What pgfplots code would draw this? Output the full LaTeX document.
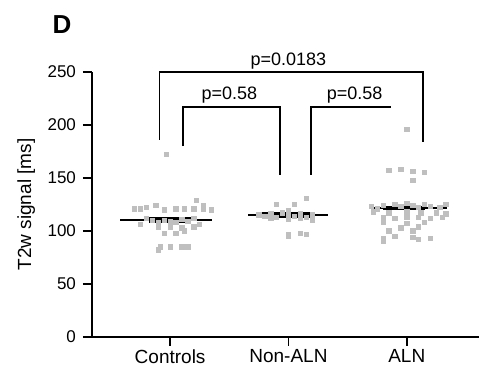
\documentclass[border=0pt]{standalone}
\usepackage{pgfplots}
\pgfplotsset{compat=1.18}
\usepackage{fontspec}
\setmainfont{Liberation Sans}
\begin{document}
\begin{tikzpicture}
\useasboundingbox (-46pt,-15.5pt) rectangle (193.5pt,168.5pt);
\begin{axis}[
  at={(0,0)}, anchor=south west,
  scale only axis, width=193.5pt, height=132.5pt,
  xmin=-0.66, xmax=2.61, ymin=0, ymax=250,
  axis x line=bottom, axis y line=left,
  axis line style={-, line width=1.1pt},
  clip=false,
  xtick={0,1,2}, xticklabels={Controls,Non-ALN,ALN},
  ytick={0,50,100,150,200,250},
  tick align=outside, major tick length=4.5pt,
  tick style={black, line width=0.9pt},
  x tick label style={font=\fontsize{9.5}{10}\selectfont, yshift=1.8pt},
  y tick label style={font=\fontsize{8.5}{10}\selectfont},
  /pgf/number format/assume math mode=true,
  ylabel={T2w signal [ms]},
  ylabel style={font=\fontsize{9.5}{10}\selectfont, at={(axis description cs:-0.17,0.5)}, anchor=center},
]
% data points
\addplot[only marks, mark=square*, mark size=1.1pt, draw=gray!50, fill=gray!50] coordinates {
(-0.30,121)(-0.25,121)(-0.20,122)(-0.12,124)(-0.05,120)(0.05,121)(0.12,121)(0.20,121)(0.28,121)(0.35,120)(0.22,129)(0.28,124)(-0.03,172)
(-0.15,110)(-0.10,108)(-0.05,110)(0.00,109)(0.05,108)(0.10,111)(0.15,109)(-0.20,112)(0.20,112)(0.25,106)(-0.25,106)
(-0.10,104)(0.00,104)(0.10,103)(-0.05,98)(0.05,98)(0.12,100)(-0.08,85)(-0.10,82)(0.00,85)(0.10,85)(0.15,85)(0.20,104)
(0.90,125)(1.05,125)(1.15,131)(1.00,119)
(0.75,115)(0.80,114)(0.85,116)(0.90,113)(0.95,117)(1.00,115)(1.05,114)(1.10,116)(1.15,113)(1.20,115)
(0.85,112)(1.00,111)(1.10,112)(1.20,110)(1.00,97)(1.00,95)(1.10,98)(1.15,97)
(2.00,196)(1.85,157)(1.95,158)(2.05,156)(2.15,155)(2.05,148)
(1.70,123)(1.75,121)(1.80,124)(1.90,125)(1.95,123)(2.00,126)(2.05,124)(2.10,122)(2.15,125)(2.20,123)(2.28,122)(2.33,125)
(1.72,118)(1.85,117)(2.00,118)(2.12,117)(2.25,117)(2.33,116)
(1.80,113)(1.90,112)(2.00,113)(2.10,113)(2.20,112)(2.30,113)
(1.80,108)(2.00,107)(2.15,108)(1.95,103)(2.10,104)(1.85,100)(2.05,100)
(1.80,93)(1.80,90)(2.05,94)(2.10,92)(2.20,93)(1.90,95)
};
% medians
\addplot[black, line width=1pt] coordinates {(-0.42,110)(0.35,110)};
\addplot[black, line width=1pt] coordinates {(0.66,115)(1.33,115)};
\addplot[black, line width=1pt] coordinates {(1.71,122)(2.34,122)};
\addplot[black, line width=3pt] coordinates {(-0.18,110)(0.18,110)};
\addplot[black, line width=3pt] coordinates {(0.78,115)(1.20,115)};
\addplot[black, line width=2pt] coordinates {(1.80,122)(2.15,122)};
% brackets
\addplot[black, line width=0.9pt] coordinates {(-0.09,186)(-0.09,250)(2.14,250)(2.14,184)};
\addplot[black, line width=0.9pt] coordinates {(0.11,180)(0.11,217)(0.93,217)(0.93,153)};
\addplot[black, line width=0.9pt] coordinates {(1.19,153)(1.19,217)(1.87,217)};
\node[font=\fontsize{9}{10}\selectfont, anchor=base] at (axis cs:1.0,256) {p=0.0183};
\node[font=\fontsize{9}{10}\selectfont, anchor=base] at (axis cs:0.5,224) {p=0.58};
\node[font=\fontsize{9}{10}\selectfont, anchor=base] at (axis cs:1.56,224) {p=0.58};
\end{axis}
\node[font=\fontsize{13}{14}\selectfont\bfseries] at (-15pt,156pt) {D};
\end{tikzpicture}
\end{document}
